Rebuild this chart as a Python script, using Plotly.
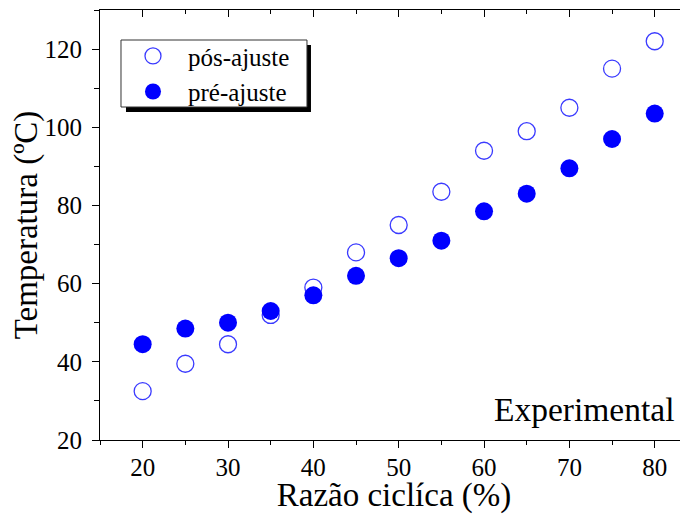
import plotly.graph_objects as go

duty = [20, 25, 30, 35, 40, 45, 50, 55, 60, 65, 70, 75, 80]
pos_ajuste = [32.5, 39.5, 44.5, 52, 59, 68, 75, 83.5, 94, 99, 105, 115, 122]
pre_ajuste = [44.5, 48.5, 50, 53, 57, 62, 66.5, 71, 78.5, 83, 89.5, 97, 103.5]
names = ["pós-ajuste", "pré-ajuste"]
x_title = "Razão ciclíca (%)"
y_title = "Temperatura (ºC)"
note = "Experimental"

FONT = "Liberation Serif"

fig = go.Figure()
fig.add_trace(go.Scatter(
    x=duty, y=pos_ajuste, mode="markers", name=names[0],
    marker=dict(symbol="circle-open", size=17, color="#3a3aff",
                line=dict(width=1.3, color="#3a3aff")),
))
fig.add_trace(go.Scatter(
    x=duty, y=pre_ajuste, mode="markers", name=names[1],
    marker=dict(symbol="circle", size=18, color="#0000ff"),
))
# invisible trace to host top axis
fig.add_trace(go.Scatter(x=[duty[0]], y=[pre_ajuste[0]], xaxis="x2",
                         mode="markers", marker=dict(opacity=0),
                         showlegend=False, hoverinfo="skip"))

# page body has an 8px default margin: compensate in size and margins
fig.update_layout(
    width=680, height=506,
    margin=dict(l=92, r=0, t=2, b=74),
    paper_bgcolor="white", plot_bgcolor="white",
    font=dict(family=FONT, color="black"),
    showlegend=True,
    legend=dict(x=0.0306, y=0.946, xanchor="left", yanchor="top",
                bgcolor="rgba(0,0,0,0)", borderwidth=0, itemwidth=60,
                font=dict(family=FONT, size=25, color="black"),
                tracegroupgap=0, itemsizing="trace"),
    xaxis=dict(range=[15, 83.9], showline=True, linecolor="black", linewidth=1.2,
               showgrid=False, zeroline=False, ticks="outside", ticklen=7,
               tickwidth=1.2, tickcolor="black", tick0=0, dtick=10,
               automargin=False, ticklabelstandoff=-2,
               minor=dict(ticks="outside", ticklen=4, dtick=5, tick0=0,
                          tickcolor="black", tickwidth=1.2, showgrid=False),
               tickfont=dict(family=FONT, size=25, color="black"),
               title=dict(text=x_title, font=dict(family=FONT, size=33, color="black"))),
    xaxis2=dict(range=[15, 83.9], overlaying="x", side="top", anchor="y",
                showline=True, linecolor="black", linewidth=1.2, showgrid=False,
                zeroline=False, ticks="inside", ticklen=7, tickwidth=1.2,
                tickcolor="black", tick0=0, dtick=10, showticklabels=False,
                automargin=False,
                minor=dict(ticks="inside", ticklen=4, dtick=5, tick0=0,
                           tickcolor="black", tickwidth=1.2, showgrid=False)),
    yaxis=dict(range=[20, 130], showline=True, linecolor="black", linewidth=1.2,
               showgrid=False, zeroline=False, ticks="outside", ticklen=7,
               tickwidth=1.2, tickcolor="black", tick0=0, dtick=20,
               automargin=False, ticklabelstandoff=5,
               minor=dict(ticks="outside", ticklen=5, dtick=10, tick0=0,
                          tickcolor="black", tickwidth=1.2, showgrid=False),
               tickfont=dict(family=FONT, size=25, color="black"),
               title=dict(text=y_title, font=dict(family=FONT, size=33, color="black"))),
    shapes=[
        dict(type="rect", xref="paper", yref="paper",
             x0=0.0442, x1=0.3588, y0=0.7628, y1=0.9186,
             fillcolor="black", line=dict(width=0), layer="above"),
        dict(type="rect", xref="paper", yref="paper",
             x0=0.0357, x1=0.352, y0=0.7744, y1=0.9302,
             fillcolor="white", line=dict(width=1, color="#333333"), layer="above"),
    ],
    annotations=[
        dict(text=note, xref="paper", yref="paper", x=0.98, y=0.07,
             xanchor="right", yanchor="middle", showarrow=False,
             font=dict(family=FONT, size=33.5, color="black")),
    ],
)

fig.write_html("out.html")
